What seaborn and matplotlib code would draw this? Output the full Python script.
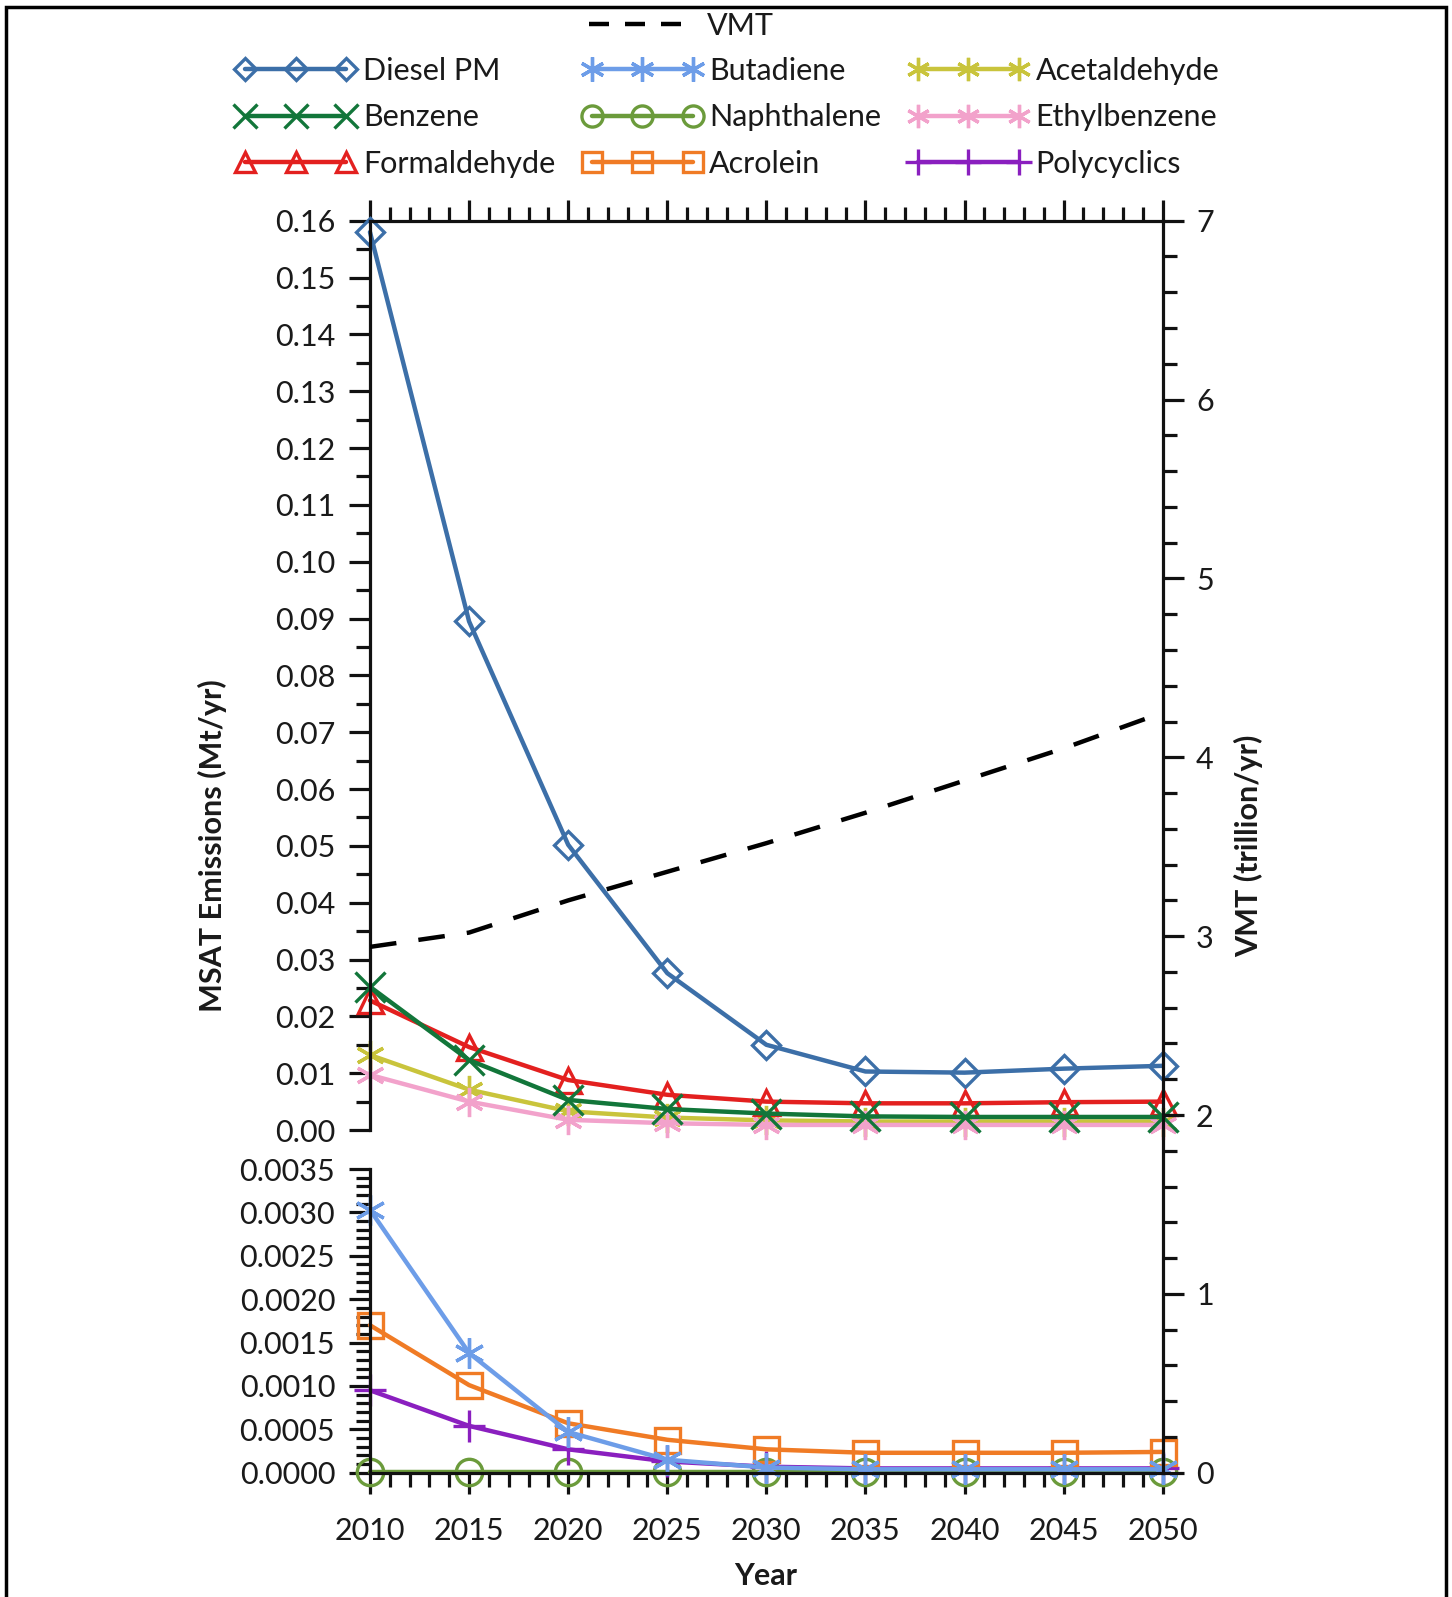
import matplotlib
matplotlib.use('Agg')
import matplotlib.pyplot as plt
import seaborn as sns
import pandas as pd
from matplotlib.ticker import MultipleLocator, FormatStrFormatter
from matplotlib.patches import Rectangle
from matplotlib.lines import Line2D

# data
years = [2010, 2015, 2020, 2025, 2030, 2035, 2040, 2045, 2050]

diesel_pm = [0.158, 0.0895, 0.0502, 0.0276, 0.0150, 0.0103, 0.0101, 0.0108, 0.0113]
benzene = [0.0252, 0.0123, 0.0053, 0.0037, 0.0029, 0.0024, 0.0023, 0.0023, 0.0023]
formaldehyde = [0.0228, 0.0146, 0.0088, 0.0062, 0.0050, 0.0047, 0.0047, 0.0049, 0.0050]
acetaldehyde = [0.0132, 0.0071, 0.0033, 0.0022, 0.0017, 0.0015, 0.0015, 0.0015, 0.0015]
ethylbenzene = [0.0097, 0.0050, 0.0018, 0.0012, 0.0009, 0.0009, 0.0009, 0.0009, 0.0009]

butadiene = [0.00303, 0.00138, 0.00047, 0.00015, 0.00006, 0.00004, 0.00004, 0.00004, 0.00004]
naphthalene = [0.00001, 0.00001, 0.00001, 0.00001, 0.00001, 0.00001, 0.00001, 0.00001, 0.00001]
acrolein = [0.00170, 0.00101, 0.00057, 0.00038, 0.00027, 0.00023, 0.00023, 0.00023, 0.00024]
polycyclics = [0.00095, 0.00054, 0.00027, 0.00013, 0.00007, 0.00005, 0.00005, 0.00005, 0.00005]

vmt = [2.94, 3.02, 3.20, 3.36, 3.52, 3.69, 3.87, 4.05, 4.25]

sns.set_style('white')
plt.rcParams['font.family'] = ['Lato', 'DejaVu Sans']
plt.rcParams['text.color'] = '#1a1a1a'
plt.rcParams['xtick.color'] = '#111111'
plt.rcParams['ytick.color'] = '#111111'
plt.rcParams['xtick.labelcolor'] = '#1a1a1a'
plt.rcParams['ytick.labelcolor'] = '#1a1a1a'

FS = 22
fig = plt.figure(figsize=(14.52, 15.97), dpi=100)
L, W = 0.2548, 0.546
ax1 = fig.add_axes([L, 0.2924, W, 0.5694])
ax2 = fig.add_axes([L, 0.0778, W, 0.1902])
axr = fig.add_axes([L, 0.0778, W, 0.8618 - 0.0778])
axr.patch.set_visible(False)

# (name, values, colour, marker, size, open marker)
top_series = [
    ('Diesel PM', diesel_pm, '#3c6fa8', 'D', 14, True),
    ('Acetaldehyde', acetaldehyde, '#c9c43c', (6, 2, 0), 21, False),
    ('Ethylbenzene', ethylbenzene, '#f2a2cb', (6, 2, 0), 21, False),
    ('Formaldehyde', formaldehyde, '#e3201f', '^', 18, True),
    ('Benzene', benzene, '#12763a', 'x', 21, False),
]
bottom_series = [
    ('Naphthalene', naphthalene, '#6b9b3b', 'o', 19, True),
    ('Polycyclics', polycyclics, '#8a1fbf', '+', 23, False),
    ('Acrolein', acrolein, '#f07b25', 's', 18, True),
    ('Butadiene', butadiene, '#6d9de8', (6, 2, 0), 22, False),
]

handles = {}
for ax, series in [(ax1, top_series), (ax2, bottom_series)]:
    for name, vals, col, mk, ms, hollow in series:
        df = pd.DataFrame({'year': years, 'val': vals})
        sns.lineplot(data=df, x='year', y='val', ax=ax, color=col, marker=mk,
                     markersize=ms, linewidth=3.2, label=name, legend=False,
                     markerfacecolor='none' if hollow else col,
                     markeredgecolor=col, markeredgewidth=2.4, clip_on=False)
        handles[name] = ax.get_lines()[-1]

vdf = pd.DataFrame({'year': years, 'vmt': vmt})
sns.lineplot(data=vdf, x='year', y='vmt', ax=axr, color='black', linewidth=3.2,
             label='VMT', legend=False)
axr.get_lines()[-1].set_dashes((6, 5))

for ax in (ax1, ax2, axr):
    ax.set_xlim(2010, 2050)
    ax.set_xlabel('')
    ax.set_ylabel('')
    for sp in ax.spines.values():
        sp.set_linewidth(2.3)
        sp.set_color('#111111')

# top panel
ax1.set_ylim(0, 0.16)
ax1.spines['bottom'].set_visible(False)
ax1.spines['right'].set_visible(False)
ax1.yaxis.set_major_locator(MultipleLocator(0.01))
ax1.yaxis.set_minor_locator(MultipleLocator(0.005))
ax1.yaxis.set_major_formatter(FormatStrFormatter('%.2f'))
ax1.xaxis.set_major_locator(MultipleLocator(5))
ax1.xaxis.set_minor_locator(MultipleLocator(1))
ax1.tick_params(axis='x', which='both', top=True, bottom=False, labeltop=False,
                labelbottom=False, direction='out')

# bottom panel
ax2.set_ylim(0, 0.0035)
ax2.spines['top'].set_visible(False)
ax2.spines['right'].set_visible(False)
ax2.yaxis.set_major_locator(MultipleLocator(0.0005))
ax2.yaxis.set_minor_locator(MultipleLocator(0.0001))
ax2.yaxis.set_major_formatter(FormatStrFormatter('%.4f'))
ax2.xaxis.set_major_locator(MultipleLocator(5))
ax2.xaxis.set_minor_locator(MultipleLocator(1))
ax2.tick_params(axis='x', which='both', top=False, bottom=True, direction='out')

for ax in (ax1, ax2):
    ax.tick_params(axis='y', which='both', left=True, right=False, direction='out')
    ax.tick_params(which='major', length=15, width=2.3, labelsize=FS, pad=10)
    ax.tick_params(which='minor', length=10, width=2.3)
ax2.tick_params(axis='x', which='major', pad=17)

# VMT axis on the right, spans both panels
axr.set_ylim(0, 7)
for s in ('left', 'top', 'bottom'):
    axr.spines[s].set_visible(False)
axr.set_xticks([])
axr.yaxis.tick_right()
axr.yaxis.set_major_locator(MultipleLocator(1))
axr.yaxis.set_minor_locator(MultipleLocator(0.2))
axr.tick_params(axis='y', which='major', length=15, width=2.3, labelsize=FS, pad=9,
                direction='out')
axr.tick_params(axis='y', which='minor', length=10, width=2.3, direction='out')

fig.text(0.146, 1 - 846 / 1597, 'MSAT Emissions (Mt/yr)', rotation=90,
         ha='center', va='center', fontsize=FS, fontweight='bold')
fig.text(0.860, 1 - 846 / 1597, 'VMT (trillion/yr)', rotation=90,
         ha='center', va='center', fontsize=FS, fontweight='bold')
fig.text(766 / 1452, 1 - 1576 / 1597, 'Year', ha='center', va='center',
         fontsize=FS, fontweight='bold')

order = ['Diesel PM', 'Benzene', 'Formaldehyde',
         'Butadiene', 'Naphthalene', 'Acrolein',
         'Acetaldehyde', 'Ethylbenzene', 'Polycyclics']
fig.legend([handles[n] for n in order], order, ncol=3, loc='upper left',
           bbox_to_anchor=(236 / 1452, 1 - 57 / 1597), frameon=False,
           numpoints=3, handlelength=3.9, handletextpad=0.25,
           columnspacing=0.9, labelspacing=0.6, fontsize=FS,
           borderpad=0, borderaxespad=0, markerscale=0.8)

vmt_proxy = Line2D([], [], color='black', linewidth=3.2, dashes=(4.5, 3.6))
fig.legend([vmt_proxy], ['VMT'], loc='upper left',
           bbox_to_anchor=(589 / 1452, 1 - 12 / 1597), frameon=False,
           handlelength=3.4, handletextpad=0.45, fontsize=FS,
           borderpad=0, borderaxespad=0)

fig.patches.append(Rectangle((6 / 1452, -0.02), 1440 / 1452, 1.02 - 7 / 1597,
                             transform=fig.transFigure, fill=False,
                             edgecolor='black', linewidth=2.5, clip_on=False))

fig.savefig('out.png', dpi=100)
